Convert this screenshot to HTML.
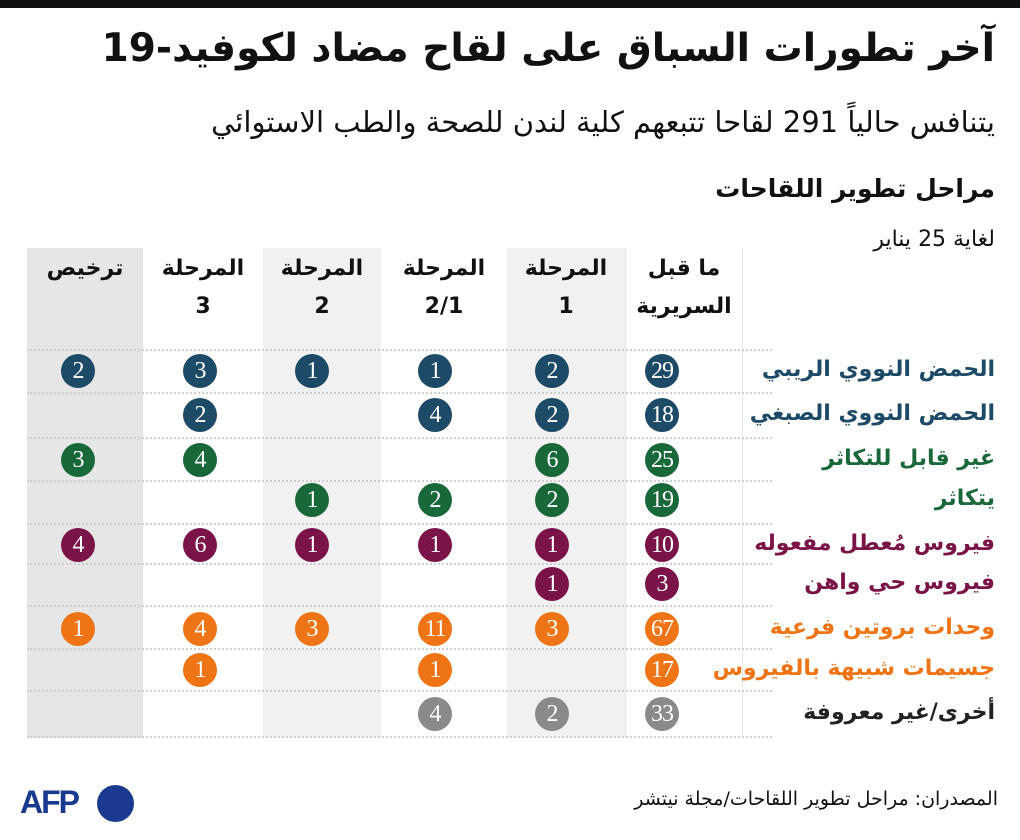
<!DOCTYPE html>
<html><head><meta charset="utf-8"><style>
*{margin:0;padding:0;box-sizing:border-box}
body{width:1020px;height:840px;background:#fff;position:relative;overflow:hidden;font-family:"DejaVu Sans","Liberation Serif",serif;color:#111}
.a{position:absolute;white-space:nowrap}
.r{direction:rtl;text-align:right}
.band{position:absolute;top:248px;height:490px}
.dot{position:absolute;left:27px;width:745px;height:0;border-top:2px dotted #cfcfcf}
.c{position:absolute;width:34px;height:34px;border-radius:50%;color:#fff;font-family:"Liberation Serif",serif;font-size:24px;line-height:34px;text-align:center;letter-spacing:-1px}
.h{position:absolute;top:250px;text-align:center;font-weight:bold;font-size:22px;line-height:38px;direction:rtl}
.lbl{position:absolute;right:25px;direction:rtl;font-weight:bold;font-size:22px}
</style></head><body>
<div class="a" style="left:0;top:0;width:1020px;height:8px;background:#111"></div>
<div class="a r" style="right:25px;top:26px;font-size:39px;font-weight:bold">آخر تطورات السباق على لقاح مضاد لكوفيد-19</div>
<div class="a r" style="right:25px;top:105px;font-size:29px">يتنافس حالياً 291 لقاحا تتبعهم كلية لندن للصحة والطب الاستوائي</div>
<div class="a r" style="right:25px;top:174px;font-size:25px;font-weight:bold">مراحل تطوير اللقاحات</div>
<div class="a r" style="right:25px;top:227px;font-size:22px">لغاية 25 يناير</div>

<div class="band" style="left:27px;width:116px;background:#e6e6e6"></div>
<div class="band" style="left:263px;width:118px;background:#f1f1f1"></div>
<div class="band" style="left:507px;width:118px;background:#f1f1f1"></div>
<div class="band" style="left:625px;width:118px;border-left:1px solid #e8e8e8;border-right:1px solid #e8e8e8"></div>

<div class="h" style="left:27px;width:116px">ترخيص</div>
<div class="h" style="left:143px;width:120px">المرحلة<br>3</div>
<div class="h" style="left:263px;width:118px">المرحلة<br>2</div>
<div class="h" style="left:381px;width:126px">المرحلة<br>2/1</div>
<div class="h" style="left:507px;width:118px">المرحلة<br>1</div>
<div class="h" style="left:625px;width:118px">ما قبل<br>السريرية</div>

<div class="dot" style="top:349px"></div><div class="dot" style="top:392px"></div><div class="dot" style="top:437px"></div><div class="dot" style="top:480px"></div><div class="dot" style="top:523px"></div><div class="dot" style="top:563px"></div><div class="dot" style="top:605px"></div><div class="dot" style="top:648px"></div><div class="dot" style="top:690px"></div><div class="dot" style="top:736px"></div>

<div id="g"></div>
<script>
var cols=[78,200,312,435,552,662];
var rows=[
[371,'#1d4a66',['2','3','1','1','2','29'],'الحمض النووي الريبي'],
[415,'#1d4a66',['','2','','4','2','18'],'الحمض النووي الصبغي'],
[460,'#18683a',['3','4','','','6','25'],'غير قابل للتكاثر'],
[500,'#18683a',['','','1','2','2','19'],'يتكاثر'],
[545,'#7a1348',['4','6','1','1','1','10'],'فيروس مُعطل مفعوله'],
[584,'#7a1348',['','','','','1','3'],'فيروس حي واهن'],
[629,'#ee7415',['1','4','3','11','3','67'],'وحدات بروتين فرعية'],
[670,'#ee7415',['','1','','1','','17'],'جسيمات شبيهة بالفيروس'],
[714,'#8a8a8a',['','','','4','2','33'],'أخرى/غير معروفة']];
var h='';
rows.forEach(function(r){
 var lc=r[1]=='#8a8a8a'?'#222':r[1];
 h+='<div class="lbl" style="top:'+(r[0]-14)+'px;color:'+lc+'">'+r[3]+'</div>';
 r[2].forEach(function(v,i){if(v)h+='<div class="c" style="left:'+(cols[i]-17)+'px;top:'+(r[0]-17)+'px;background:'+r[1]+'">'+v+'</div>';});
});
document.getElementById('g').innerHTML=h;
</script>

<div class="a r" style="right:22px;top:788px;font-size:19px">المصدران: مراحل تطوير اللقاحات/مجلة نيتشر</div>
<div class="a" style="left:20px;top:784px;font-family:'Liberation Sans',sans-serif;font-weight:bold;font-size:32px;color:#1a3a8f;letter-spacing:-2px">AFP</div>
<div class="a" style="left:97px;top:785px;width:37px;height:37px;border-radius:50%;background:#1a3a8f"></div>
</body></html>
